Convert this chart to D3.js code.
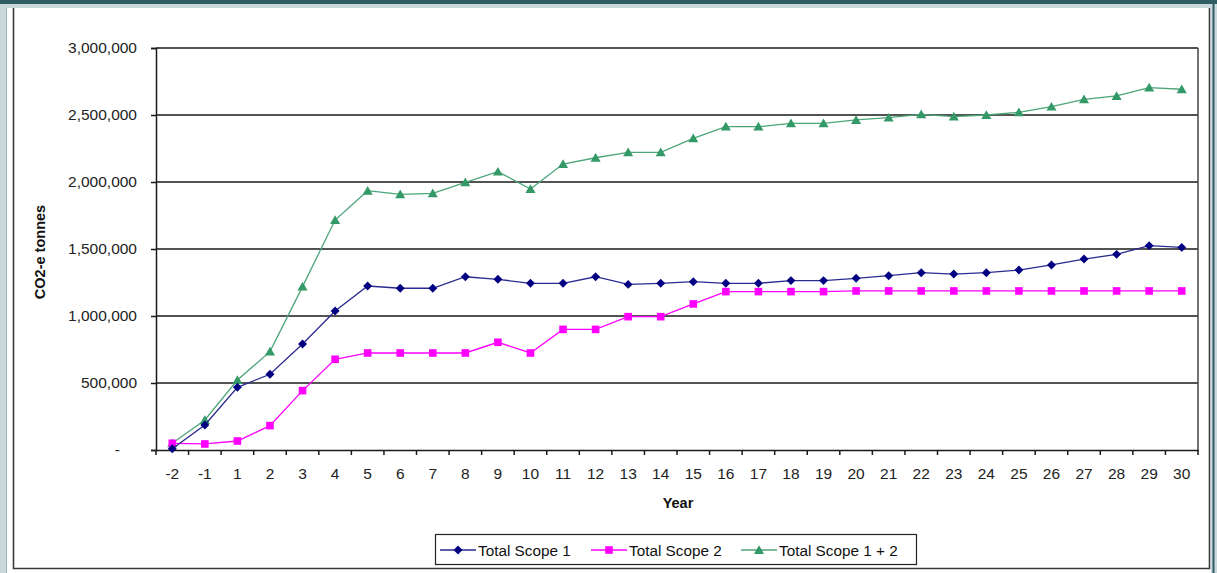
<!DOCTYPE html>
<html>
<head>
<meta charset="utf-8">
<script src="https://cdn.jsdelivr.net/npm/d3@7"></script>
<style>
  html, body { margin: 0; padding: 0; background: #ffffff; }
  svg { display: block; font-family: "Liberation Sans", Arial, sans-serif; }
</style>
</head>
<body>
<svg id="chart" width="1217" height="573"></svg>
<script>
// Project years (year -2 and -1 are pre-operation)
const years = ["-2", "-1", "1", "2", "3", "4", "5", "6", "7", "8", "9", "10",
  "11", "12", "13", "14", "15", "16", "17", "18", "19", "20",
  "21", "22", "23", "24", "25", "26", "27", "28", "29", "30"];

// Emissions, tonnes CO2-e
const scope1 = [10000, 187000, 468000, 565000, 791000, 1037000, 1224000, 1207000, 1207000, 1293000, 1274000, 1244000,
  1244000, 1293000, 1236000, 1244000, 1256000, 1244000, 1244000, 1264000, 1264000, 1281000,
  1301000, 1323000, 1313000, 1323000, 1343000, 1381000, 1425000, 1460000, 1525000, 1512000];
const scope2 = [50000, 45000, 67000, 182000, 443000, 677000, 724000, 724000, 724000, 724000, 804000, 724000,
  900000, 900000, 995000, 995000, 1090000, 1182000, 1182000, 1182000, 1182000, 1187000,
  1187000, 1187000, 1187000, 1187000, 1187000, 1187000, 1187000, 1187000, 1187000, 1187000];
const scope12 = [50000, 224000, 522000, 734000, 1219000, 1716000, 1935000, 1908000, 1915000, 1998000, 2077000, 1948000,
  2134000, 2181000, 2221000, 2221000, 2326000, 2413000, 2413000, 2438000, 2438000, 2463000,
  2480000, 2505000, 2488000, 2500000, 2520000, 2562000, 2617000, 2642000, 2704000, 2692000];

const yTicks = [0, 500000, 1000000, 1500000, 2000000, 2500000, 3000000];
const seriesNames = ["Total Scope 1", "Total Scope 2", "Total Scope 1 + 2"];

const svg = d3.select("#chart");
const W = 1217, H = 573;
const plot = { left: 156, right: 1198, top: 48, bottom: 450 };

// Window chrome around the chart
svg.append("rect").attr("x", 0).attr("y", 0).attr("width", W).attr("height", H).attr("fill", "#ffffff");
svg.append("rect").attr("x", 0).attr("y", 0).attr("width", W).attr("height", 8).attr("fill", "#cad8dc");
svg.append("rect").attr("x", 0).attr("y", 0).attr("width", 6).attr("height", H).attr("fill", "#cad8dc");
svg.append("rect").attr("x", 6).attr("y", 8).attr("width", 1).attr("height", H).attr("fill", "#9fb3b8");
svg.append("rect").attr("x", 1211).attr("y", 0).attr("width", 6).attr("height", H).attr("fill", "#cad8dc");
svg.append("rect").attr("x", 1212.5).attr("y", 4).attr("width", 2).attr("height", H).attr("fill", "#2f5c62");
svg.append("rect").attr("x", 0).attr("y", 0).attr("width", W).attr("height", 4).attr("fill", "#2f5c62");

// Chart frame (top edge is outside the visible area)
svg.append("path")
  .attr("d", `M13.5,8 V568.5 H1209.5 V8`)
  .attr("fill", "none").attr("stroke", "#3a3a3a").attr("stroke-width", 1.6);

const x = d3.scaleBand().domain(years).range([plot.left, plot.right]).padding(0);
const y = d3.scaleLinear().domain([0, 3000000]).range([plot.bottom, plot.top]);

// Horizontal gridlines
svg.append("g").selectAll("line").data(yTicks.slice(1))
  .join("line")
  .attr("x1", plot.left).attr("x2", plot.right)
  .attr("y1", d => y(d)).attr("y2", d => y(d))
  .attr("stroke", "#1a1a1a").attr("stroke-width", 1.5);

// Plot area border (right side)
svg.append("line").attr("x1", plot.right).attr("x2", plot.right)
  .attr("y1", plot.top).attr("y2", plot.bottom)
  .attr("stroke", "#444").attr("stroke-width", 1.5);

// Y axis
const fmt = d3.format(",");
const yAxis = svg.append("g")
  .attr("transform", `translate(${plot.left},0)`)
  .call(d3.axisLeft(y).tickValues(yTicks).tickSize(5).tickPadding(14)
    .tickFormat(d => d === 0 ? "-" : fmt(d)));
yAxis.select(".domain").attr("stroke", "#1a1a1a").attr("stroke-width", 1.5);
yAxis.selectAll(".tick line").attr("stroke", "#1a1a1a").attr("stroke-width", 1.5);
yAxis.selectAll(".tick text")
  .attr("font-size", 15.5).attr("fill", "#222")
  .attr("font-family", "'Liberation Sans', Arial, sans-serif")
  .attr("x", d => d === 0 ? -36 : -19);

// X axis with ticks on category boundaries
const xAxis = svg.append("g")
  .attr("transform", `translate(0,${plot.bottom})`)
  .call(d3.axisBottom(x).tickSize(0).tickPadding(18));
xAxis.select(".domain").attr("stroke", "#1a1a1a").attr("stroke-width", 1.5);
xAxis.selectAll(".tick text")
  .attr("font-size", 15.5).attr("fill", "#222")
  .attr("font-family", "'Liberation Sans', Arial, sans-serif");
const bounds = years.map(d => x(d)).concat([x(years[years.length - 1]) + x.bandwidth()]);
svg.append("g").selectAll("line").data(bounds).join("line")
  .attr("x1", d => d).attr("x2", d => d)
  .attr("y1", plot.bottom).attr("y2", plot.bottom + 5)
  .attr("stroke", "#1a1a1a").attr("stroke-width", 1.5);

// Axis titles
svg.append("text")
  .attr("x", 678).attr("y", 508)
  .attr("text-anchor", "middle").attr("font-weight", "bold").attr("font-size", 14.5).attr("fill", "#111")
  .text("Year");
svg.append("text")
  .attr("transform", "translate(45,252) rotate(-90)")
  .attr("text-anchor", "middle").attr("font-weight", "bold").attr("font-size", 14.5).attr("fill", "#111")
  .text("CO2-e tonnes");

// Marker shapes
const diamond = { draw(ctx, size) { const r = Math.sqrt(size / 2);
  ctx.moveTo(0, -r); ctx.lineTo(r, 0); ctx.lineTo(0, r); ctx.lineTo(-r, 0); ctx.closePath(); } };
const square = { draw(ctx, size) { const r = Math.sqrt(size) / 2;
  ctx.rect(-r, -r, 2 * r, 2 * r); } };
const triangle = { draw(ctx, size) { const s = Math.sqrt(size * 4 / Math.sqrt(3)); const h = s * Math.sqrt(3) / 2;
  ctx.moveTo(0, -h * 0.55); ctx.lineTo(s / 2, h * 0.45); ctx.lineTo(-s / 2, h * 0.45); ctx.closePath(); } };

const series = [
  { name: seriesNames[0], values: scope1, line: "#2a2a90", fill: "#000080", shape: diamond, size: 40 },
  { name: seriesNames[1], values: scope2, line: "#ff00ff", fill: "#ff00ff", shape: square, size: 58 },
  { name: seriesNames[2], values: scope12, line: "#4da57a", fill: "#339966", shape: triangle, size: 44 }
];

const cx = d => x(d) + x.bandwidth() / 2;
const lineGen = d3.line().x(d => cx(d.year)).y(d => y(d.v));

// Draw in reverse so Scope 1 sits on top
series.slice().reverse().forEach(s => {
  const pts = years.map((yr, i) => ({ year: yr, v: s.values[i] }));
  const g = svg.append("g");
  g.append("path").datum(pts).attr("d", lineGen)
    .attr("fill", "none").attr("stroke", s.line).attr("stroke-width", 1.3);
  g.selectAll("path.m").data(pts).join("path").attr("class", "m")
    .attr("transform", d => `translate(${cx(d.year)},${y(d.v)})`)
    .attr("d", d3.symbol().type(s.shape).size(s.size))
    .attr("fill", s.fill);
});

// Legend
const legend = svg.append("g");
legend.append("rect").attr("x", 435.5).attr("y", 534.5).attr("width", 481).attr("height", 30)
  .attr("fill", "#fff").attr("stroke", "#222").attr("stroke-width", 1.2);
const legendX = [440, 591, 741];
series.forEach((s, i) => {
  const lx = legendX[i], ly = 550;
  legend.append("line").attr("x1", lx).attr("x2", lx + 36).attr("y1", ly).attr("y2", ly)
    .attr("stroke", s.line).attr("stroke-width", 1.3);
  legend.append("path").attr("transform", `translate(${lx + 18},${ly})`)
    .attr("d", d3.symbol().type(s.shape).size(s.size)).attr("fill", s.fill);
  legend.append("text").attr("x", lx + 38).attr("y", ly + 5.5)
    .attr("font-size", 15.3).attr("fill", "#111").text(s.name);
});
</script>
</body>
</html>
